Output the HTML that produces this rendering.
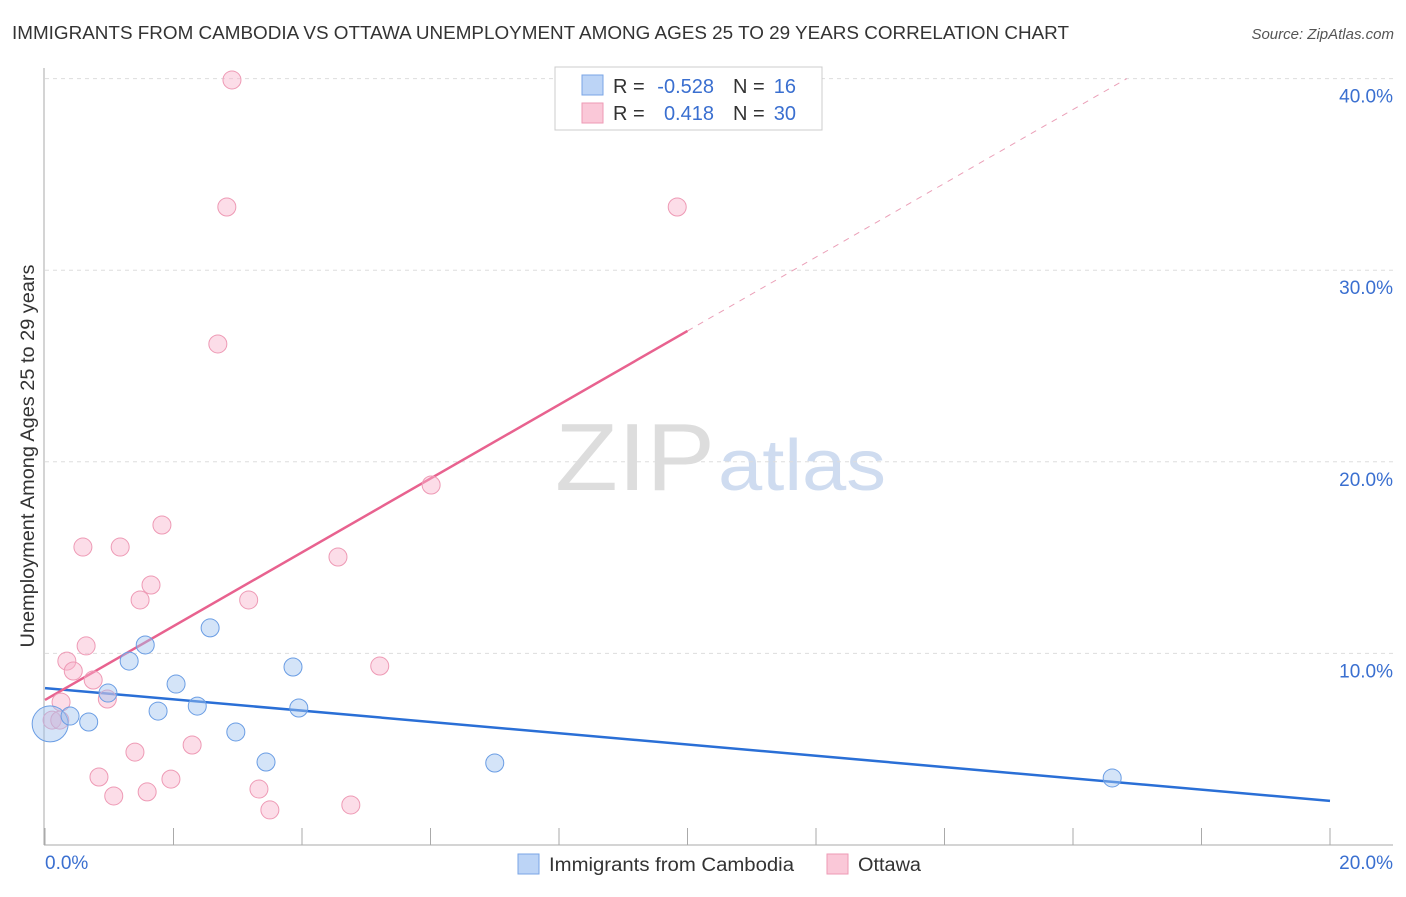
<!DOCTYPE html>
<html><head><meta charset="utf-8"><style>
body{margin:0;background:#fff;font-family:"Liberation Sans",sans-serif;}
svg text{font-family:"Liberation Sans",sans-serif;}
</style></head><body>
<svg id="chart" width="1406" height="892" viewBox="0 0 1406 892">
<text x="12" y="39" font-size="18" fill="#333" textLength="1057" lengthAdjust="spacingAndGlyphs">IMMIGRANTS FROM CAMBODIA VS OTTAWA UNEMPLOYMENT AMONG AGES 25 TO 29 YEARS CORRELATION CHART</text>
<text x="1394" y="39" font-size="15" fill="#555" text-anchor="end" font-style="italic">Source: ZipAtlas.com</text>
<text x="555" y="490" font-size="96" fill="#ddd" font-family="Liberation Serif" textLength="160" lengthAdjust="spacingAndGlyphs">ZIP</text>
<text x="718" y="490" font-size="72" fill="#cfdcf0" textLength="168" lengthAdjust="spacingAndGlyphs">atlas</text>
<g id="grid"></g>
<g id="axes"></g>
<g id="lines"></g>
<g id="points"></g>
<text transform="translate(34,456) rotate(-90)" font-size="19" fill="#333" text-anchor="middle" textLength="383" lengthAdjust="spacingAndGlyphs">Unemployment Among Ages 25 to 29 years</text>
<text x="45" y="869" font-size="19" fill="#3a6fd0">0.0%</text>
<text x="1393" y="869" font-size="19" fill="#3a6fd0" text-anchor="end">20.0%</text>
<g>
<rect x="555" y="67" width="267" height="63" fill="#fff" stroke="#ccc"/>
<rect x="582" y="75" width="21" height="20" fill="#bcd4f6" stroke="#7aa5e6"/>
<rect x="582" y="103" width="21" height="20" fill="#fac8d8" stroke="#ee9ab5"/>
<text x="613" y="93" font-size="20" fill="#333">R =</text>
<text x="714" y="93" font-size="20" fill="#3a6fd0" text-anchor="end">-0.528</text>
<text x="733" y="93" font-size="20" fill="#333">N =</text>
<text x="796" y="93" font-size="20" fill="#3a6fd0" text-anchor="end">16</text>
<text x="613" y="120" font-size="20" fill="#333">R =</text>
<text x="714" y="120" font-size="20" fill="#3a6fd0" text-anchor="end">0.418</text>
<text x="733" y="120" font-size="20" fill="#333">N =</text>
<text x="796" y="120" font-size="20" fill="#3a6fd0" text-anchor="end">30</text>
</g>
<g>
<rect x="518" y="854" width="21" height="20" fill="#bcd4f6" stroke="#7aa5e6"/>
<text x="549" y="871" font-size="19" fill="#333" textLength="245" lengthAdjust="spacingAndGlyphs">Immigrants from Cambodia</text>
<rect x="827" y="854" width="21" height="20" fill="#fac8d8" stroke="#ee9ab5"/>
<text x="858" y="871" font-size="19" fill="#333" textLength="63" lengthAdjust="spacingAndGlyphs">Ottawa</text>
</g>
</svg>
<script>
const yTicks=[10,20,30,40];
const yTickLabels=["10.0%","20.0%","30.0%","40.0%"];
const xTicks=[0,2,4,6,8,10,12,14,16,18,20];
const blueX=[0.08,0.39,0.68,0.98,1.31,1.56,1.76,2.04,2.37,2.57,2.97,3.44,3.86,3.95,7.00,16.61];
const blueY=[6.32,6.73,6.42,7.93,9.60,10.44,6.99,8.40,7.25,11.33,5.90,4.33,9.29,7.15,4.28,3.50];
const pinkX=[0.11,0.23,0.25,0.34,0.44,0.59,0.64,0.75,0.84,0.97,1.07,1.17,1.40,1.48,1.59,1.65,1.82,1.96,2.29,2.69,2.83,2.91,3.17,3.33,3.50,4.56,4.76,5.21,6.01,9.84];
const pinkY=[6.52,6.52,7.46,9.60,9.08,15.55,10.39,8.61,3.55,7.62,2.56,15.55,4.85,12.79,2.77,13.57,16.70,3.44,5.22,26.15,33.30,39.93,12.79,2.92,1.83,15.03,2.09,9.34,18.79,33.30];
const blueTrend=[8.19,2.30];
const pinkTrend=[7.57,26.83];
const NS="http://www.w3.org/2000/svg";
const sx=v=>45+v/20*1285;
const sy=v=>845-v/10*191.6;
function mk(tag,attrs,parent){const e=document.createElementNS(NS,tag);for(const k in attrs)e.setAttribute(k,attrs[k]);document.getElementById(parent).appendChild(e);return e;}
yTicks.forEach((t,i)=>{
 const l=mk('line',{x1:45,x2:1393,y1:sy(t),y2:sy(t),stroke:'#ddd','stroke-dasharray':'4,4'},'grid');
 
 
 const tx=mk('text',{x:1393,y:sy(t)+24,'font-size':19,fill:'#3a6fd0','text-anchor':'end'},'grid');
 tx.textContent=yTickLabels[i];
 
 
});
const ax=mk('line',{x1:44,x2:44,y1:68,y2:845,stroke:'#aaa'},'axes');


const bx=mk('line',{x1:44,x2:1393,y1:845,y2:845,stroke:'#aaa'},'axes');


xTicks.forEach(t=>{
 const l=mk('line',{x1:sx(t),x2:sx(t),y1:828,y2:845,stroke:'#aaa'},'axes');
 
 
});
const bl=mk('line',{x1:sx(0),x2:sx(20),y1:sy(blueTrend[0]),y2:sy(blueTrend[1]),stroke:'#2a6fd6','stroke-width':2.5},'lines');


const slope=(pinkTrend[1]-pinkTrend[0])/10;
const pl=mk('line',{x1:sx(0),x2:sx(10),y1:sy(pinkTrend[0]),y2:sy(pinkTrend[1]),stroke:'#e8628f','stroke-width':2.5},'lines');


const xe=(40-pinkTrend[0])/slope;
const pd=mk('line',{x1:sx(10),x2:sx(xe),y1:sy(pinkTrend[1]),y2:sy(40),stroke:'#eba0b8','stroke-width':1,'stroke-dasharray':'6,6'},'lines');


pinkX.forEach((x,i)=>{
 const c=mk('circle',{cx:sx(x),cy:sy(pinkY[i]),r:9,fill:'rgba(248,180,204,0.45)',stroke:'#ee9ab5','stroke-width':1},'points');
 
 
});
blueX.forEach((x,i)=>{
 const c=mk('circle',{cx:sx(x),cy:sy(blueY[i]),r:i===0?18:9,fill:'rgba(160,195,240,0.45)',stroke:'#6a9de4','stroke-width':1},'points');
 
 
});
</script>
</body></html>
